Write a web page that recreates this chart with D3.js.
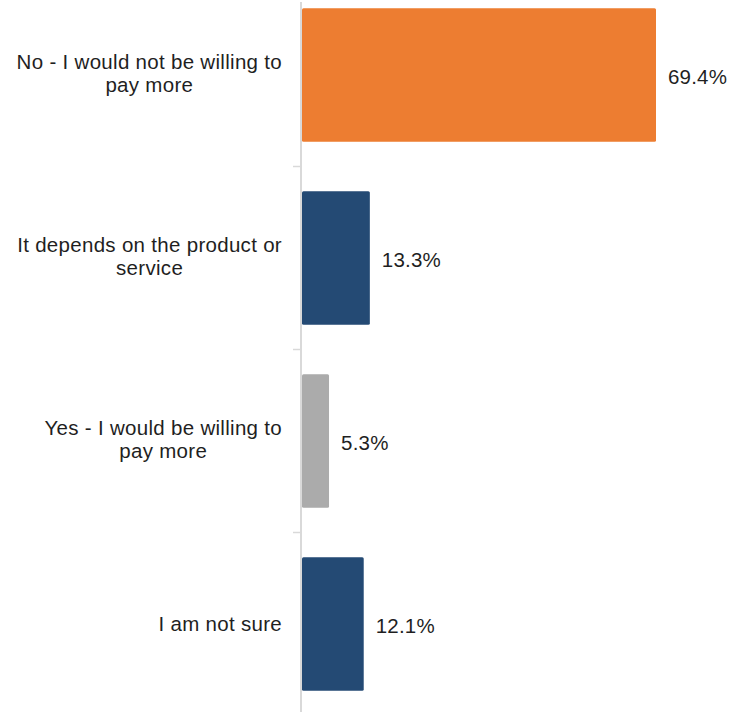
<!DOCTYPE html>
<html>
<head>
<meta charset="utf-8">
<script src="https://cdn.jsdelivr.net/npm/d3@7"></script>
<style>
  html, body { margin: 0; padding: 0; background: #fff; }
  svg { display: block; }
  text { font-family: "Liberation Sans", Arial, sans-serif; fill: #1f1f1f; }
</style>
</head>
<body>
<svg id="chart" width="742" height="712"></svg>
<script>
const categories = [
  "No - I would not be willing to pay more",
  "It depends on the product or service",
  "Yes - I would be willing to pay more",
  "I am not sure"
];
const categoryLines = [
  ["No - I would not be willing to", "pay more"],
  ["It depends on the product or", "service"],
  ["Yes - I would be willing to", "pay more"],
  ["I am not sure"]
];
const values = [69.4, 13.3, 5.3, 12.1];
const colors = ["#ED7D31", "#244A74", "#ABABAB", "#244A74"];
const valueLabels = ["69.4%", "13.3%", "5.3%", "12.1%"];

const svg = d3.select("#chart");
const axisX = 301;

const y = d3.scaleBand()
  .domain(categories)
  .range([-16.5, 715.5])
  .paddingInner(0.27)
  .paddingOuter(0.135);

const x = d3.scaleLinear()
  .domain([0, 69.4])
  .range([axisX + 1, 656]);

// axis line
svg.append("line")
  .attr("x1", axisX).attr("x2", axisX)
  .attr("y1", 2).attr("y2", 712)
  .attr("stroke", "#D9D9D9").attr("stroke-width", 2);

// ticks at band boundaries
const step = y.step();
const gap = step * y.paddingInner();
svg.selectAll("line.tick")
  .data(categories.slice(1))
  .enter().append("line")
  .attr("class", "tick")
  .attr("x1", axisX - 8).attr("x2", axisX)
  .attr("y1", d => y(d) - gap / 2)
  .attr("y2", d => y(d) - gap / 2)
  .attr("stroke", "#D9D9D9").attr("stroke-width", 1.5);

// bars
svg.selectAll("rect.bar")
  .data(categories)
  .enter().append("rect")
  .attr("class", "bar")
  .attr("x", x(0))
  .attr("y", d => y(d))
  .attr("width", (d, i) => x(values[i]) - x(0))
  .attr("height", y.bandwidth())
  .attr("rx", 1.5)
  .attr("fill", (d, i) => colors[i]);

// value labels
svg.selectAll("text.val")
  .data(categories)
  .enter().append("text")
  .attr("class", "val")
  .attr("x", (d, i) => x(values[i]) + 12)
  .attr("y", d => y(d) + y.bandwidth() / 2)
  .attr("dy", "0.43em")
  .attr("font-size", "20.5px")
  .attr("letter-spacing", "0.2px")
  .text((d, i) => valueLabels[i]);

// category labels (right-aligned block, centered lines)
const lineH = 23;
const rightEdge = 282;
categories.forEach((c, i) => {
  const lines = categoryLines[i];
  const g = svg.append("g");
  const cy = y(c) + y.bandwidth() / 2 - (lines.length > 1 ? 2 : 0);
  const texts = lines.map((ln, k) => g.append("text")
    .attr("font-size", "20.5px")
    .attr("letter-spacing", "0.3px")
    .attr("y", cy + (k - (lines.length - 1) / 2) * lineH)
    .attr("dy", "0.35em")
    .attr("text-anchor", "middle")
    .text(ln));
  const maxW = d3.max(texts, t => t.node().getComputedTextLength());
  texts.forEach(t => t.attr("x", rightEdge - maxW / 2));
});
</script>
</body>
</html>
